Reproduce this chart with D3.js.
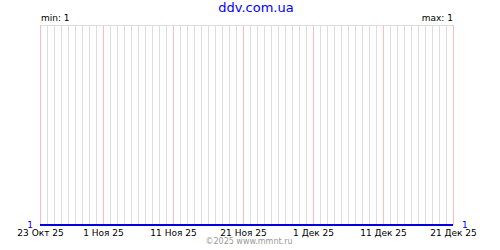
<!DOCTYPE html>
<meta charset="utf-8">
<style>
body { margin: 0; background: #fff; }
svg text { font-family: "DejaVu Sans", Verdana, sans-serif; }
.axis path, .axis line { display: none; }
line.grid { stroke: #dddddd; stroke-width: 1px; }
line.mark { stroke: #ffbcbc; stroke-width: 1px; }
</style>
<body>
<svg id="chart" width="500" height="250"></svg>
<script src="https://cdn.jsdelivr.net/npm/d3@7"></script>
<script>
var title = "ddv.com.ua";
var footer = "\u00a92025 www.mmnt.ru";
var startDate = new Date(2025, 9, 23);
var endDate = new Date(2025, 11, 21);
// one value per day, 23 Oct .. 21 Dec
var values = [1,1,1,1,1,1,1,1,1,1, 1,1,1,1,1,1,1,1,1,1,
              1,1,1,1,1,1,1,1,1,1, 1,1,1,1,1,1,1,1,1,1,
              1,1,1,1,1,1,1,1,1,1, 1,1,1,1,1,1,1,1,1,1];
var tickDates = [new Date(2025, 9, 23), new Date(2025, 10, 1), new Date(2025, 10, 11),
                 new Date(2025, 10, 21), new Date(2025, 11, 1), new Date(2025, 11, 11),
                 new Date(2025, 11, 21)];
var tickLabels = ["23 Окт 25", "1 Ноя 25", "11 Ноя 25", "21 Ноя 25", "1 Дек 25", "11 Дек 25", "21 Дек 25"];

var svg = d3.select("#chart");
var plotLeft = 40, plotRight = 453, plotTop = 25, plotBottom = 225;

var days = d3.timeDay.range(startDate, d3.timeDay.offset(endDate, 1));
var data = days.map(function(d, i) { return {date: d, value: values[i]}; });

var minV = d3.min(values), maxV = d3.max(values);
var x = d3.scaleTime().domain([startDate, endDate]).range([plotLeft, plotRight]);
var y = d3.scaleLinear().domain([minV, maxV === minV ? minV + 1 : maxV]).range([plotBottom, plotTop]);

function px(d) { return Math.round(x(d)) + 0.5; }

// daily grid
svg.selectAll("line.grid").data(days).enter().append("line")
  .attr("class", "grid")
  .attr("x1", px).attr("x2", px)
  .attr("y1", plotTop).attr("y2", plotBottom);

// pink lines at labelled dates
svg.selectAll("line.mark").data(tickDates).enter().append("line")
  .attr("class", "mark")
  .attr("x1", px).attr("x2", px)
  .attr("y1", plotTop).attr("y2", plotBottom);

// top border
svg.append("line").attr("class", "grid")
  .attr("x1", plotLeft + 1).attr("x2", plotRight)
  .attr("y1", plotTop + 0.5).attr("y2", plotTop + 0.5);

// series
svg.append("path").datum(data)
  .style("fill", "none").style("stroke", "#0000dd").style("stroke-width", "2px")
  .attr("d", d3.line().x(function(d) { return x(d.date); }).y(function(d) { return y(d.value); }));

// x axis labels
var axis = svg.append("g").attr("class", "axis")
  .attr("transform", "translate(0," + plotBottom + ")")
  .call(d3.axisBottom(x).tickValues(tickDates).tickSize(0).tickPadding(0)
        .tickFormat(function(d, i) { return tickLabels[i]; }));
axis.selectAll("text").attr("dy", null).attr("y", 11)
  .style("font-size", "9px").style("fill", "#000");

// value labels at both ends
svg.append("text").attr("x", 33).attr("y", y(minV) + 2.5).attr("text-anchor", "end")
  .style("font-size", "9px").style("fill", "#0000ff").text(minV);
svg.append("text").attr("x", 462).attr("y", y(values[values.length - 1]) + 2.5)
  .style("font-size", "9px").style("fill", "#0000ff").text(values[values.length - 1]);

svg.append("text").attr("x", plotLeft + 1).attr("y", 21)
  .style("font-size", "9px").text("min: " + minV);
svg.append("text").attr("x", plotRight).attr("y", 21).attr("text-anchor", "end")
  .style("font-size", "9px").text("max: " + maxV);

svg.append("text").attr("x", 256).attr("y", 12).attr("text-anchor", "middle")
  .style("font-size", "13px").style("fill", "#0000ff").text(title);

svg.append("text").attr("x", 249).attr("y", 244).attr("text-anchor", "middle")
  .style("font-size", "8px").style("fill", "#999999").text(footer);
</script>
</body>
